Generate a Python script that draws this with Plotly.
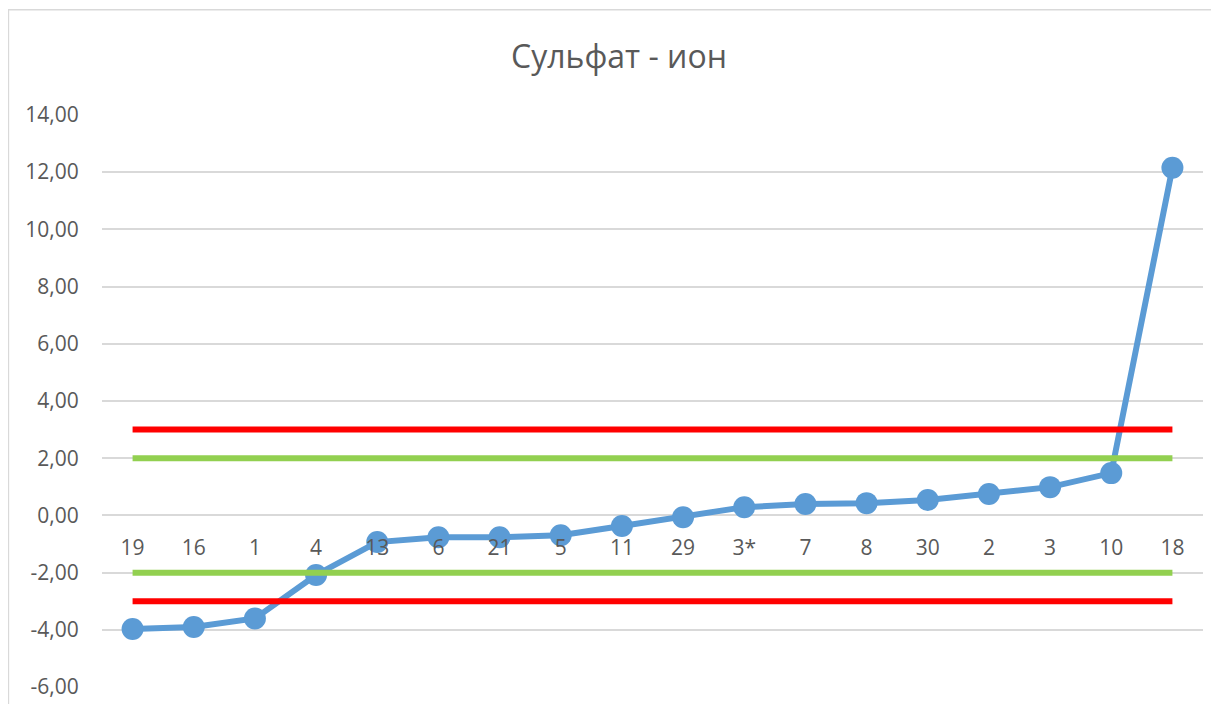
import plotly.graph_objects as go

categories = ["19", "16", "1", "4", "13", "6", "21", "5", "11", "29", "3*", "7", "8", "30", "2", "3", "10", "18"]
values = [-3.97, -3.90, -3.60, -2.08, -0.93, -0.76, -0.76, -0.69, -0.37, -0.06, 0.29, 0.40, 0.43, 0.54, 0.75, 0.99, 1.48, 12.15]
upper_red = [3, 3, 3, 3, 3, 3, 3, 3, 3, 3, 3, 3, 3, 3, 3, 3, 3, 3]
upper_green = [2, 2, 2, 2, 2, 2, 2, 2, 2, 2, 2, 2, 2, 2, 2, 2, 2, 2]
lower_green = [-2, -2, -2, -2, -2, -2, -2, -2, -2, -2, -2, -2, -2, -2, -2, -2, -2, -2]
lower_red = [-3, -3, -3, -3, -3, -3, -3, -3, -3, -3, -3, -3, -3, -3, -3, -3, -3, -3]
y_ticks = [-6, -4, -2, 0, 2, 4, 6, 8, 10, 12, 14]
y_tick_labels = ["-6,00", "-4,00", "-2,00", "0,00", "2,00", "4,00", "6,00", "8,00", "10,00", "12,00", "14,00"]

BLUE = "#5B9BD5"
GREEN = "#92D050"
RED = "#FF0000"
TXT = "#595959"
GRID = "#D9D9D9"
FONT = "Open Sans"

fig = go.Figure()
fig.add_trace(go.Scatter(x=categories, y=values, mode="lines+markers",
                         line=dict(color=BLUE, width=6),
                         marker=dict(size=22, color=BLUE), showlegend=False))
for vals, col in [(upper_green, GREEN), (lower_green, GREEN), (upper_red, RED), (lower_red, RED)]:
    fig.add_trace(go.Scatter(x=categories, y=vals, mode="lines",
                             line=dict(color=col, width=6), showlegend=False))

ymin, ymax = -6.03, 14.03
zero_pos = (0 - ymin) / (ymax - ymin)

W, H = 1211, 696  # page body has an 8px offset

fig.update_layout(
    width=W, height=H,
    margin=dict(l=94, r=16, t=106, b=16),
    paper_bgcolor="white", plot_bgcolor="white",
    font=dict(family=FONT, color=TXT, size=21),
    title=dict(text="Сульфат - ион", x=(619 - 8) / W, xanchor="center", y=1 - (57 - 8) / H, yanchor="middle",
               font=dict(family=FONT, size=32, color=TXT)),
    xaxis=dict(type="category", range=[-0.5, len(categories) - 0.5], showgrid=False,
               showline=False, zeroline=False, anchor="free", position=zero_pos,
               ticks="outside", ticklen=13, tickcolor="rgba(0,0,0,0)", automargin=False,
               tickfont=dict(family=FONT, size=21, color=TXT)),
    yaxis=dict(range=[ymin, ymax], tickvals=y_ticks, ticktext=y_tick_labels, showgrid=True,
               gridcolor=GRID, gridwidth=1.5, zeroline=False, showline=False, automargin=False,
               ticks="outside", ticklen=18, tickcolor="rgba(0,0,0,0)",
               tickfont=dict(family=FONT, size=21, color=TXT)),
    shapes=[dict(type="rect", xref="paper", yref="paper", x0=-0.085, x1=1.2, y0=-0.2,
                 y1=(687 - 11) / 572, line=dict(color=GRID, width=1.5), layer="below")],
)

fig.write_html("out.html")
